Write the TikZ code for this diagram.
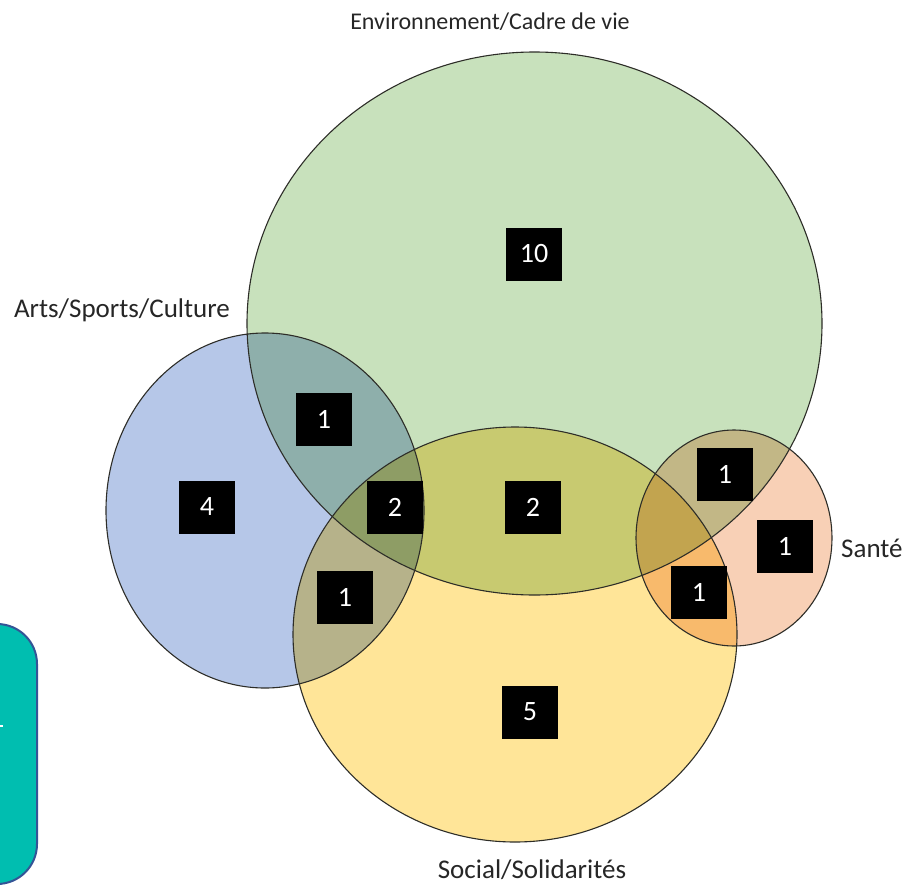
\documentclass[tikz,border=0pt]{standalone}
\usepackage{fontspec}
\setmainfont{Carlito}
\definecolor{envgreen}{RGB}{200,225,188}
\definecolor{artsblue}{RGB}{182,199,232}
\definecolor{socyellow}{RGB}{255,229,152}
\definecolor{santeorange}{RGB}{248,208,182}
\definecolor{tabteal}{RGB}{0,190,176}
\definecolor{tabedge}{RGB}{52,84,150}
\definecolor{rimgray}{RGB}{45,45,40}
\usetikzlibrary{positioning}

\begin{document}
\begin{tikzpicture}[x=1pt, y=-1pt,
  setlabel/.style={font=\fontsize{27}{31}\selectfont, text=black!85, inner sep=0pt},
  countbox/.style={fill=black, text=white, minimum width=56pt, minimum height=53pt,
    inner sep=0pt, font=\fontsize{28}{32}\selectfont}]
  \useasboundingbox (0,0) rectangle (905,886);

  % Side tab
  \draw[fill=tabteal, draw=tabedge, line width=2pt, rounded corners=40pt] (-60,624) rectangle (37,884);
  \fill[white] (0,725) rectangle (3,727);

  % Sets
  \begin{scope}[blend mode=multiply]
    \fill[envgreen] (534.5,323.5) ellipse [x radius=287.5pt, y radius=271.5pt];
    \fill[artsblue] (265,510.5) ellipse [x radius=159pt, y radius=177.5pt];
    \fill[socyellow] (515,634.5) ellipse [x radius=222pt, y radius=207.5pt];
    \fill[santeorange] (734,538) ellipse [x radius=98pt, y radius=108pt];
  \end{scope}
  \draw[rimgray, line width=1.1pt] (534.5,323.5) ellipse [x radius=287.5pt, y radius=271.5pt];
  \draw[rimgray, line width=1.1pt] (265,510.5) ellipse [x radius=159pt, y radius=177.5pt];
  \draw[rimgray, line width=1.1pt] (515,634.5) ellipse [x radius=222pt, y radius=207.5pt];
  \draw[rimgray, line width=1.1pt] (734,538) ellipse [x radius=98pt, y radius=108pt];

  % Set names
  \node[setlabel, font=\fontsize{24}{28}\selectfont] (env) at (490,22) {Environnement/Cadre de vie};
  \node[setlabel] (arts) at (122,310) {Arts/Sports/Culture};
  \node[setlabel, anchor=west] (sante) at (841,548) {Santé};
  \node[setlabel] (social) at (532,870) {Social/Solidarités};

  % Counts
  \node[countbox] (nenv) at (534,254) {10};
  \node[countbox] (narts) at (207,507) {4};
  \node[countbox] (nsoc) at (530,712) {5};
  \node[countbox] (nsante) at (785,546) {1};
  \node[countbox] (nenvarts) at (324,419) {1};
  \node[countbox] (nall) at (395,507) {2};
  \node[countbox] (nenvsoc) at (533,507) {2};
  \node[countbox] (nartssoc) at (345,597) {1};
  \node[countbox] (nenvsante) at (725,474) {1};
  \node[countbox] (nsocsante) at (699,592) {1};
\end{tikzpicture}
\end{document}
